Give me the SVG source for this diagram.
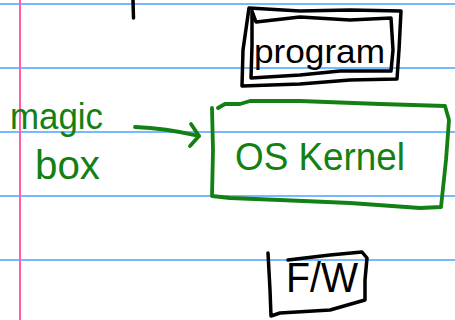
<svg xmlns="http://www.w3.org/2000/svg" width="455" height="320" viewBox="0 0 455 320">
  <defs>
    <style>
      .rule { stroke: #4aa3ff; stroke-width: 1.3; }
      .margin { stroke: #ff5fa8; stroke-width: 2; }
      .ink { fill: none; stroke: #000; stroke-width: 3.5; stroke-linecap: round; stroke-linejoin: round; }
      .gink { fill: none; stroke: #138013; stroke-width: 3.8; stroke-linecap: round; stroke-linejoin: round; }
      .bt { font-family: "Liberation Sans", "DejaVu Sans", sans-serif; fill: #000; }
      .gt { font-family: "Liberation Sans", "DejaVu Sans", sans-serif; fill: #138013; }
    </style>
  </defs>
  <rect width="455" height="320" fill="#fff"/>
  <g id="paper">
    <line class="rule" x1="0" y1="4" x2="455" y2="4"/>
    <line class="rule" x1="0" y1="68" x2="455" y2="68"/>
    <line class="rule" x1="0" y1="132" x2="455" y2="132"/>
    <line class="rule" x1="0" y1="196" x2="455" y2="196"/>
    <line class="rule" x1="0" y1="260" x2="455" y2="260"/>
    <line class="margin" x1="20" y1="0" x2="20" y2="320"/>
  </g>
  <g id="tick">
    <path class="ink" d="M133 0 L133.5 18"/>
  </g>
  <g id="program">
    <path class="ink" d="M249 8 L300 11 L350 10 L401 11 L399 50 L397 79 L350 80 L300 84 L242 86 L243 50 Z"/>
    <path class="ink" d="M252 11 L256 22 L300 17 L350 20 L391 18 L393 50 L391 71 L340 71 L300 75 L251 78 L252 45 Z"/>
    <text class="bt" x="254" y="63" font-size="33" textLength="131" lengthAdjust="spacingAndGlyphs">program</text>
  </g>
  <g id="kernel">
    <path class="gink" d="M218 108 L225 104 L240 104 L250 101 L300 101 L380 104 L445 106 L449 120 L446 160 L441 207 L420 208 L350 203 L280 200 L230 198 L212 196 L213 150 L212 108"/>
    <text class="gt" x="235" y="170" font-size="38" textLength="170" lengthAdjust="spacingAndGlyphs">OS Kernel</text>
  </g>
  <g id="magicbox">
    <text class="gt" x="10" y="129" font-size="36" textLength="93" lengthAdjust="spacingAndGlyphs">magic</text>
    <text class="gt" x="35" y="179" font-size="40" textLength="65" lengthAdjust="spacingAndGlyphs">box</text>
  </g>
  <g id="fw">
    <path class="ink" d="M268 253 L270 290 L271 316 L280 313 L330 310 L365 300 L365 280 L367 258 L362 252 L330 255 L288 260"/>
    <text class="bt" x="286" y="292" font-size="42" textLength="72" lengthAdjust="spacingAndGlyphs">F/W</text>
  </g>
  <g id="connectors">
    <path class="gink" d="M135 127 Q165 128 199 136"/>
    <path class="gink" d="M191 124 L199 136 L190 146"/>
  </g>
</svg>
